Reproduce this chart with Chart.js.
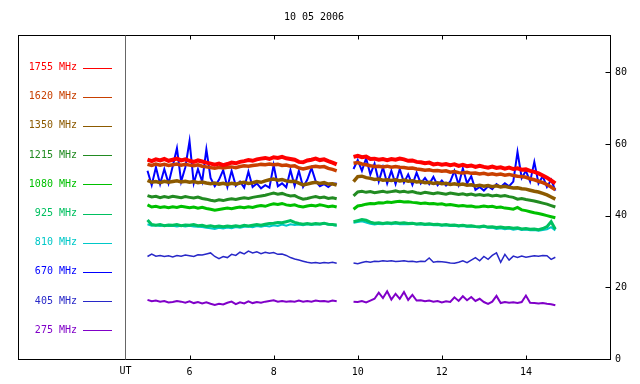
<!DOCTYPE html>
<html>
<head>
<meta charset="utf-8">
<script src="https://cdn.jsdelivr.net/npm/chart.js@4.4.1/dist/chart.umd.min.js"></script>
<style>
  html, body { margin: 0; padding: 0; background: #fff; }
  #chart { display: block; }
</style>
</head>
<body>
<canvas id="chart" width="640" height="384"></canvas>
<script>
// Radio flux records, 10 05 2006

const title = '10 05 2006';
const xTicks = [6, 8, 10, 12, 14];
const yTicks = [0, 20, 40, 60, 80];

// UT hours of the two recording segments
const timesA = [5.0, 5.1, 5.2, 5.3, 5.4, 5.5, 5.6, 5.7, 5.8, 5.9, 6.0, 6.1, 6.2, 6.3, 6.4, 6.5, 6.6, 6.7, 6.8, 6.9,
    7.0, 7.1, 7.2, 7.3, 7.4, 7.5, 7.6, 7.7, 7.8, 7.9, 8.0, 8.1, 8.2, 8.3, 8.4, 8.5, 8.6, 8.7, 8.8, 8.9,
    9.0, 9.1, 9.2, 9.3, 9.4, 9.5];
const timesB = [9.9, 10.0, 10.1, 10.2, 10.3, 10.4, 10.5, 10.6, 10.7, 10.8, 10.9, 11.0, 11.1, 11.2, 11.3, 11.4, 11.5,
    11.6, 11.7, 11.8, 11.9, 12.0, 12.1, 12.2, 12.3, 12.4, 12.5, 12.6, 12.7, 12.8, 12.9, 13.0, 13.1, 13.2, 13.3,
    13.4, 13.5, 13.6, 13.7, 13.8, 13.9, 14.0, 14.1, 14.2, 14.3, 14.4, 14.5, 14.6, 14.7];

const labels = ['1755 MHz', '1620 MHz', '1350 MHz', '1215 MHz', '1080 MHz', '925 MHz', '810 MHz', '670 MHz', '405 MHz', '275 MHz'];
const colors = ['#ff0000', '#c84000', '#8c5a00', '#228b22', '#00c000', '#00c060', '#00c8c8', '#0000ff', '#2828c8', '#8000c8'];

const f1755A = [55.6, 55.2, 55.7, 55.4, 55.8, 55.3, 55.6, 55.9, 55.4, 55.7, 55.3, 55.0, 55.4, 55.1, 54.8, 54.5, 54.2, 54.5, 54.1, 54.4,
    54.8, 54.6, 55.0, 55.2, 55.5, 55.3, 55.7, 55.9, 56.1, 55.8, 56.3, 56.1, 56.4, 56.0, 55.8, 55.6, 55.0, 54.9, 55.4, 55.6,
    55.9, 55.5, 55.7, 55.2, 54.8, 54.3];
const f1755B = [56.4, 56.7, 56.3, 56.5, 55.8, 55.9, 55.6, 55.8, 55.5, 55.8, 55.6, 55.9, 55.7, 55.3, 55.4, 55.0, 54.9,
    54.6, 54.8, 54.3, 54.5, 54.2, 54.4, 54.1, 54.3, 53.9, 54.2, 53.8, 54.0, 53.6, 53.9, 53.6, 53.4, 53.7, 53.3,
    53.5, 53.1, 53.4, 53.0, 53.2, 52.8, 52.9, 52.5, 52.2, 51.8, 51.2, 50.6, 49.8, 49.0];

const f1620A = [54.3, 54.0, 54.4, 54.1, 54.3, 54.0, 54.2, 54.4, 54.1, 54.3, 54.1, 53.9, 54.2, 53.8, 53.6, 53.4, 53.2, 53.5, 53.3, 53.5,
    53.6, 53.4, 53.7, 53.9, 53.8, 54.0, 54.1, 54.3, 54.2, 54.4, 54.2, 54.3, 54.0, 54.1, 53.8, 53.9, 53.3, 53.0, 53.3, 53.6,
    53.8, 53.6, 53.7, 53.2, 52.9, 52.5];
const f1620B = [54.6, 54.8, 54.4, 54.2, 53.9, 53.7, 53.8, 53.6, 53.8, 53.5, 53.7, 53.5, 53.4, 53.2, 53.3, 53.0, 52.9,
    52.7, 52.8, 52.5, 52.6, 52.4, 52.5, 52.1, 52.3, 52.0, 51.9, 52.1, 51.8, 51.9, 51.6, 51.8, 51.5, 51.7, 51.4,
    51.6, 51.3, 51.5, 51.2, 51.0, 50.9, 50.7, 50.3, 50.0, 49.6, 49.2, 48.7, 48.0, 47.2];

const f1350A = [49.8, 49.3, 49.5, 49.2, 49.6, 49.3, 49.5, 49.7, 49.4, 49.6, 49.3, 49.5, 49.2, 49.4, 49.1, 48.9, 49.1, 48.8, 49.0, 48.7,
    49.0, 48.8, 49.1, 49.3, 49.0, 49.2, 49.5, 49.3, 49.7, 50.0, 50.2, 49.9, 50.1, 49.7, 49.5, 49.6, 49.1, 48.6, 48.8, 49.1,
    49.3, 49.0, 49.2, 48.8, 48.9, 48.5];
const f1350B = [49.5, 50.9, 51.0, 50.6, 50.4, 50.1, 50.2, 49.9, 50.0, 49.8, 50.0, 49.7, 49.9, 49.6, 49.7, 49.4, 49.5,
    49.2, 49.3, 49.0, 49.2, 48.9, 49.0, 48.7, 48.9, 48.6, 48.8, 48.5, 48.6, 48.3, 48.5, 48.2, 48.4, 48.1, 48.3,
    48.0, 48.2, 47.9, 47.7, 47.8, 47.5, 47.4, 47.1, 46.8, 46.6, 46.2, 45.8, 45.2, 44.6];

const f1215A = [45.6, 45.2, 45.4, 45.0, 45.3, 45.1, 45.4, 45.2, 45.0, 45.3, 45.1, 44.9, 45.2, 44.8, 44.6, 44.3, 44.1, 44.4, 44.2, 44.5,
    44.7, 44.5, 44.8, 45.0, 44.8, 45.1, 45.3, 45.5, 45.7, 46.0, 46.3, 46.0, 46.2, 45.8, 45.5, 45.6, 45.0, 44.6, 44.8, 45.1,
    45.3, 45.0, 45.2, 44.8, 45.0, 44.7];
const f1215B = [45.5, 46.6, 46.8, 46.5, 46.7, 46.4, 46.6, 46.8, 46.5, 46.7, 46.9, 46.6, 46.8, 46.5, 46.7, 46.4, 46.2,
    46.5, 46.3, 46.1, 46.4, 46.2, 46.0, 46.3, 46.1, 45.9, 46.1, 45.8, 46.0, 45.7, 45.9, 45.6, 45.8, 45.5, 45.7,
    45.4, 45.6, 45.3, 45.1, 44.6, 44.8, 44.5, 44.3, 44.1, 43.8, 43.5, 43.2, 42.8, 42.4];

const f1080A = [43.0, 42.4, 42.6, 42.3, 42.5, 42.2, 42.5, 42.3, 42.6, 42.4, 42.2, 42.4, 42.1, 42.3, 42.0, 41.8, 41.5, 41.7, 41.9, 42.1,
    41.9, 42.2, 42.4, 42.2, 42.5, 42.3, 42.6, 42.8, 42.6, 43.0, 43.3, 43.1, 43.4, 43.0, 42.8, 43.0, 42.6, 42.4, 42.7, 42.9,
    42.7, 43.0, 42.8, 42.5, 42.7, 42.4];
const f1080B = [41.8, 42.7, 42.9, 43.2, 43.4, 43.3, 43.6, 43.5, 43.8, 43.7, 43.9, 44.0, 43.8, 43.9, 43.7, 43.6, 43.4,
    43.5, 43.3, 43.4, 43.2, 43.3, 43.0, 43.1, 42.9, 42.7, 42.8, 42.6, 42.7, 42.4, 42.5, 42.7, 42.5, 42.6, 42.3,
    42.4, 42.1, 42.0, 41.8, 42.3, 41.6, 41.4, 41.1, 40.8, 40.6, 40.3, 40.0, 39.7, 39.4];

const f925A = [38.8, 37.5, 37.3, 37.5, 37.2, 37.4, 37.3, 37.5, 37.2, 37.4, 37.3, 37.5, 37.2, 37.3, 37.0, 37.2, 36.9, 37.1, 36.9, 37.1,
    37.0, 37.2, 37.0, 37.3, 37.1, 37.3, 37.5, 37.3, 37.6, 37.8, 37.9, 38.1, 38.0, 38.3, 38.6, 38.1, 37.8, 37.6, 37.8, 37.6,
    37.8, 37.7, 37.9, 37.6, 37.5, 37.4];
const f925B = [38.3, 38.6, 38.9, 38.7, 38.2, 37.9, 38.0, 37.8, 38.0, 37.9, 38.1, 37.9, 38.0, 37.8, 37.9, 37.7, 37.8,
    37.6, 37.7, 37.5, 37.6, 37.4, 37.5, 37.3, 37.4, 37.2, 37.3, 37.1, 37.2, 37.0, 36.9, 37.1, 36.8, 36.9, 36.7,
    36.8, 36.6, 36.7, 36.5, 36.6, 36.3, 36.4, 36.2, 36.3, 36.1, 36.4, 36.9, 38.3, 36.2];

const f810A = [37.6, 37.2, 37.3, 37.1, 37.3, 37.1, 37.2, 37.0, 37.2, 37.0, 37.2, 37.0, 36.9, 36.8, 36.6, 36.5, 36.3, 36.6, 36.4, 36.7,
    36.5, 36.8, 36.6, 36.9, 37.0, 36.8, 37.1, 36.9, 37.2, 37.0, 37.3, 37.1, 37.5, 37.2, 37.6, 37.4, 37.5, 37.3, 37.6, 37.4,
    37.6, 37.5, 37.7, 37.5, 37.4, 37.2];
const f810B = [38.0, 38.2, 38.4, 38.1, 37.7, 37.5, 37.7, 37.6, 37.8, 37.6, 37.8, 37.6, 37.7, 37.6, 37.7, 37.5, 37.6,
    37.4, 37.5, 37.3, 37.4, 37.2, 37.3, 37.1, 37.2, 37.0, 37.1, 36.9, 37.0, 36.8, 36.7, 36.9, 36.6, 36.7, 36.3,
    36.5, 36.2, 36.4, 36.1, 36.3, 36.0, 36.1, 35.9, 36.0, 35.8, 36.0, 36.2, 36.8, 35.9];

const f670A = [52.5, 48.5, 53.5, 48.8, 53.0, 49.0, 53.8, 58.8, 49.5, 53.5, 60.8, 49.0, 53.0, 49.5, 58.5, 50.5, 48.2, 50.0, 52.7, 48.0,
    52.5, 48.3, 49.5, 47.8, 52.3, 48.0, 49.0, 47.6, 48.5, 47.8, 54.1, 48.2, 49.0, 47.9, 52.7, 48.3, 52.5, 48.0, 50.0, 53.3,
    49.6, 48.2, 48.8, 48.0, 48.9, 49.0];
const f670B = [53.0, 55.5, 52.5, 56.0, 51.5, 54.5, 49.5, 53.5, 49.0, 52.5, 48.8, 53.0, 49.2, 51.5, 48.6, 52.0, 49.0,
    50.5, 48.8, 50.8, 48.5, 49.8, 48.4, 49.5, 52.5, 48.6, 53.2, 49.0, 51.0, 47.2, 48.0, 47.0, 48.2, 47.4, 48.8,
    48.0, 49.0, 48.2, 49.5, 57.8, 50.5, 52.5, 49.5, 55.0, 49.0, 51.0, 48.0, 50.0, 47.0];

const f405A = [28.6, 29.3, 28.7, 28.9, 28.6, 28.8, 28.5, 28.9, 28.7, 29.0, 28.8, 28.6, 29.1, 29.0, 29.3, 29.6, 28.6, 28.0, 28.6, 28.3,
    29.2, 28.9, 29.8, 29.3, 30.1, 29.6, 29.9, 29.4, 29.8, 29.5, 29.7, 29.2, 29.3, 28.9, 28.3, 27.9, 27.6, 27.3, 27.0, 26.8,
    26.9, 26.7, 26.9, 26.8, 27.0, 26.7];
const f405B = [26.8, 26.6, 26.9, 27.2, 27.0, 27.3, 27.2, 27.4, 27.3, 27.4, 27.2, 27.3, 27.4, 27.2, 27.3, 27.1, 27.3,
    27.2, 28.2, 27.0, 27.2, 27.1, 27.0, 26.8, 26.7, 27.0, 27.4, 26.9, 27.6, 28.3, 27.4, 28.6, 27.8, 28.9, 29.6,
    27.0, 29.2, 27.6, 28.7, 28.3, 28.7, 28.4, 28.6, 28.8, 28.7, 28.9, 28.8, 27.8, 28.4];

const f275A = [16.5, 16.1, 16.3, 16.0, 16.2, 15.8, 15.9, 16.2, 16.0, 15.7, 16.1, 15.6, 15.9, 15.5, 15.8, 15.4, 15.1, 15.4, 15.2, 15.7,
    16.0, 15.3, 15.8, 15.5, 16.1, 15.6, 15.9, 15.7, 16.0, 16.2, 16.4, 16.0, 16.2, 16.0, 16.1, 16.0, 16.3, 16.0, 16.2, 16.0,
    16.3, 16.1, 16.2, 16.0, 16.3, 16.1];
const f275B = [16.0, 15.9, 16.2, 15.8, 16.3, 16.8, 18.5, 17.0, 18.9, 16.6, 18.2, 16.8, 18.7, 16.5, 17.9, 16.3, 16.4,
    16.1, 16.3, 16.0, 16.2, 15.8, 16.1, 15.9, 17.2, 16.2, 17.5, 16.4, 17.3, 16.2, 16.8, 15.9, 15.4, 16.0, 17.6,
    15.6, 15.9, 15.7, 15.8, 15.6, 15.9, 17.7, 15.7, 15.6, 15.5, 15.6, 15.4, 15.3, 15.0];

const seriesA = [f1755A, f1620A, f1350A, f1215A, f1080A, f925A, f810A, f670A, f405A, f275A];
const seriesB = [f1755B, f1620B, f1350B, f1215B, f1080B, f925B, f810B, f670B, f405B, f275B];
const widths = [4, 3.5, 3.5, 3, 3, 3, 2, 2, 1.5, 2];

const FONT = '10px "DejaVu Sans Mono", monospace';

function buildPoints(a, b) {
    const pts = timesA.map((t, i) => ({ x: t, y: a[i] }));
    pts.push({ x: 9.7, y: null });
    return pts.concat(timesB.map((t, i) => ({ x: t, y: b[i] })));
}

// frame, ticks, title and legend
const framePlugin = {
    id: 'frame',
    afterDraw(chart) {
        const ctx = chart.ctx;
        const a = chart.chartArea;
        const xs = chart.scales.x;
        const ys = chart.scales.y;
        const L = Math.round(a.left) + 0.5, R = Math.round(a.right) + 0.5;
        const T = Math.round(a.top) + 0.5, B = Math.round(a.bottom) + 0.5;
        ctx.save();
        ctx.strokeStyle = '#000';
        ctx.lineWidth = 1;
        ctx.strokeRect(L, T, R - L, B - T);

        ctx.beginPath();
        xTicks.forEach(v => {
            const px = Math.round(xs.getPixelForValue(v)) + 0.5;
            ctx.moveTo(px, B); ctx.lineTo(px, B - 4);
            ctx.moveTo(px, T); ctx.lineTo(px, T + 4);
        });
        yTicks.forEach(v => {
            const py = Math.round(ys.getPixelForValue(v)) + 0.5;
            ctx.moveTo(R, py); ctx.lineTo(R - 5, py);
        });
        ctx.stroke();

        // separator between legend and data
        const sx = Math.round(xs.getPixelForValue(4.46)) + 0.5;
        ctx.strokeStyle = '#666';
        ctx.beginPath();
        ctx.moveTo(sx, T); ctx.lineTo(sx, B);
        ctx.stroke();

        ctx.font = FONT;
        ctx.fillStyle = '#000';
        ctx.textAlign = 'center';
        ctx.textBaseline = 'middle';
        ctx.fillText(title, (a.left + a.right) / 2, 17);
        ctx.fillText('UT', sx, 371);

        ctx.textAlign = 'right';
        labels.forEach((lab, i) => {
            const y = 67.5 + i * 29.2;
            ctx.fillStyle = colors[i];
            ctx.fillText(lab, 77, y);
            ctx.strokeStyle = colors[i];
            ctx.beginPath();
            ctx.moveTo(83, Math.round(y) + 0.5);
            ctx.lineTo(112, Math.round(y) + 0.5);
            ctx.stroke();
        });
        ctx.restore();
    }
};

const datasets = labels.map((lab, i) => ({
    label: lab,
    data: buildPoints(seriesA[i], seriesB[i]),
    borderColor: colors[i],
    borderWidth: widths[i],
    pointRadius: 0,
    tension: 0,
    spanGaps: false,
}));

new Chart(document.getElementById('chart'), {
    type: 'line',
    data: { datasets: datasets },
    options: {
        responsive: false,
        animation: false,
        devicePixelRatio: 1,
        layout: { padding: { left: 18, top: 35, right: 0, bottom: 0 } },
        plugins: { legend: { display: false }, tooltip: { enabled: false } },
        scales: {
            x: {
                type: 'linear',
                min: 1.92,
                max: 16,
                grid: { display: false, drawTicks: false },
                border: { display: false },
                afterBuildTicks: s => { s.ticks = xTicks.map(v => ({ value: v })); },
                afterFit: s => { s.height = 25; },
                ticks: { color: '#000', font: { family: '"DejaVu Sans Mono", monospace', size: 10 }, padding: 7, maxRotation: 0 },
            },
            y: {
                position: 'right',
                min: 0,
                max: 90.4,
                grid: { display: false, drawTicks: false },
                border: { display: false },
                afterBuildTicks: s => { s.ticks = yTicks.map(v => ({ value: v })); },
                afterFit: s => { s.width = 30; },
                ticks: { color: '#000', font: { family: '"DejaVu Sans Mono", monospace', size: 10 }, padding: 5 },
            },
        },
    },
    plugins: [framePlugin],
});
</script>
</body>
</html>
